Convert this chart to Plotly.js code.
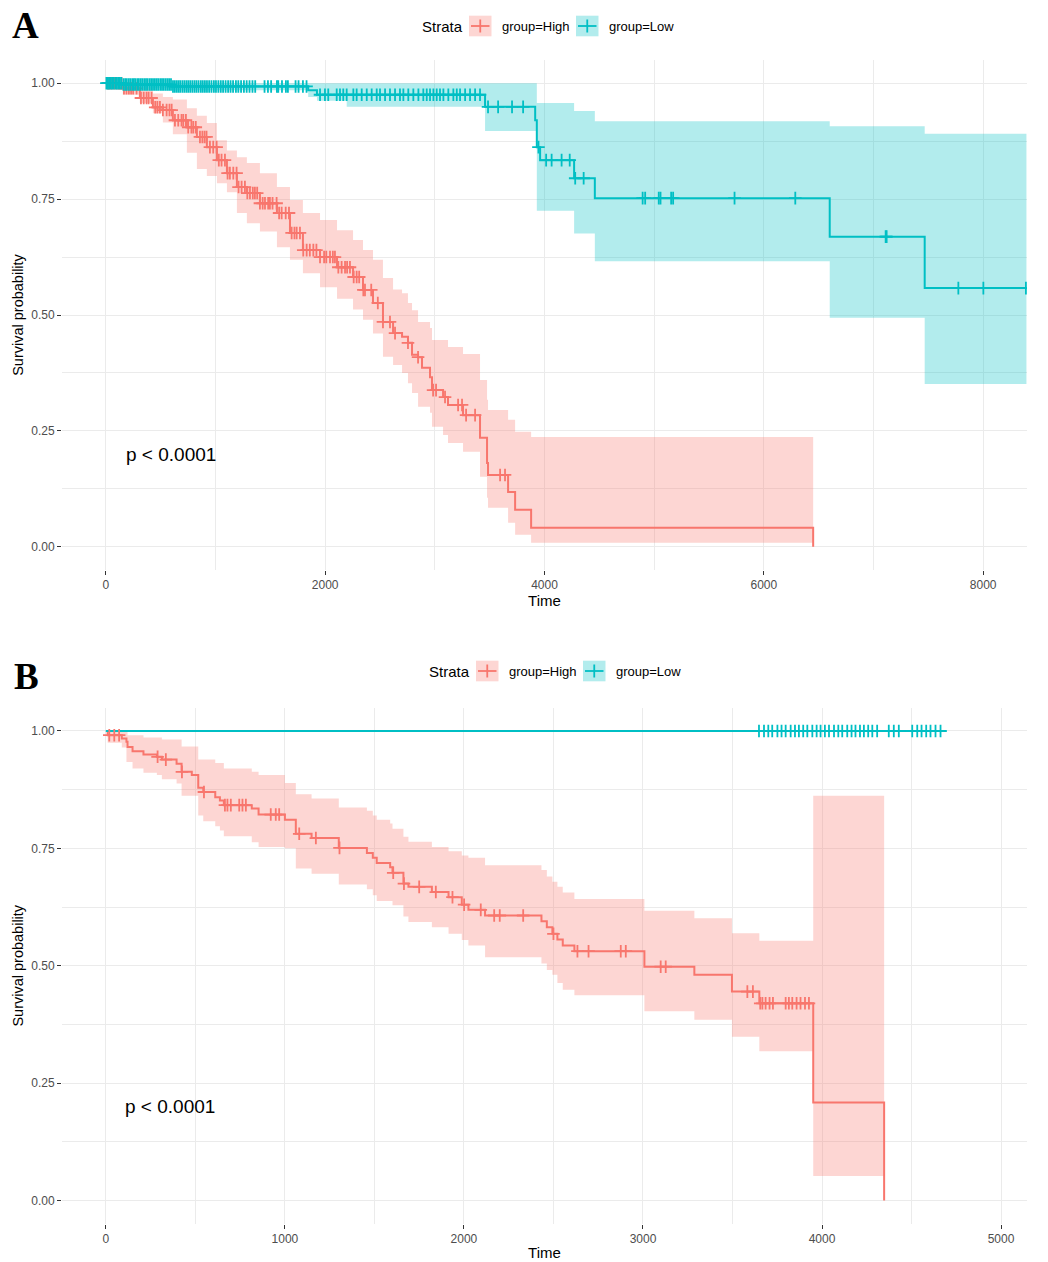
<!DOCTYPE html>
<html><head><meta charset="utf-8">
<script src="https://cdn.plot.ly/plotly-3.0.1.min.js"></script>
<style>body{margin:0;background:#fff}</style>
</head><body><div id="chart" style="width:1048px;height:1262px"></div>
<script>
// ---------- Panel A : group=High ----------
const A_high_time  = [0,155,310,429,520,611,739,830,921,1013,1104,1195,1286,1405,1560,1679,1797,1953,2108,2254,2345,2436,2527,2619,2701,2755,2792,2847,2883,2956,2974,3075,3120,3257,3412,3476,3485,3668,3732,3878,6450];
const A_high_surv  = [1.0,0.989,0.968,0.948,0.942,0.920,0.905,0.884,0.862,0.834,0.806,0.776,0.763,0.741,0.720,0.677,0.640,0.625,0.603,0.582,0.554,0.526,0.485,0.461,0.453,0.440,0.414,0.409,0.386,0.366,0.338,0.323,0.306,0.284,0.235,0.181,0.155,0.118,0.080,0.041,0.0];
const A_high_upper = [1.0,1.0,0.99,0.978,0.97,0.965,0.946,0.93,0.914,0.877,0.855,0.84,0.828,0.806,0.776,0.748,0.72,0.705,0.683,0.662,0.64,0.619,0.58,0.555,0.547,0.526,0.51,0.485,0.485,0.472,0.446,0.446,0.431,0.416,0.36,0.317,0.295,0.274,0.248,0.237,0.237];
const A_high_lower = [1.0,0.975,0.957,0.935,0.915,0.89,0.85,0.815,0.8,0.784,0.765,0.72,0.698,0.68,0.646,0.619,0.59,0.56,0.535,0.512,0.49,0.46,0.41,0.392,0.375,0.353,0.332,0.302,0.302,0.289,0.259,0.241,0.224,0.205,0.151,0.106,0.084,0.052,0.026,0.009,0.009];
const A_high_censor = [20,35,52,75,97,120,143,165,188,210,230,249,280,320,345,371,390,417,450,470,493,520,554,580,600,630,660,690,706,730,751,780,797,820,858,880,900,918,949,979,1010,1030,1055,1086,1110,1131,1162,1192,1210,1238,1268,1290,1314,1340,1359,1380,1405,1430,1451,1480,1496,1520,1557,1580,1603,1640,1670,1694,1720,1740,1770,1800,1831,1860,1892,1920,1953,1990,2010,2044,2070,2089,2120,2150,2181,2200,2226,2260,2287,2310,2348,2363,2420,2480,2527,2591,2637,2755,2847,2984,3011,3093,3212,3248,3285,3367,3595,3640];

// ---------- Panel A : group=Low ----------
const A_low_time  = [0,150,600,1845,1925,2196,3458,3915,3930,3960,4270,4459,6601,7467,8395];
const A_low_surv  = [1.0,0.997,0.993,0.985,0.975,0.975,0.949,0.92,0.862,0.834,0.795,0.752,0.669,0.558,0.558];
const A_low_upper = [1,1,1,1,1,1,1,1,0.957,0.957,0.94,0.918,0.907,0.891,0.891];
const A_low_lower = [1,0.99,0.985,0.97,0.962,0.949,0.897,0.897,0.725,0.725,0.676,0.616,0.494,0.351,0.351];
const A_low_censor = [5,18,30,44,57,70,86,99,112,128,141,160,176,190,207,222,240,255,268,286,301,318,333,350,366,381,399,414,430,447,463,478,496,512,528,545,561,577,594,612,629,647,664,680,699,717,735,752,770,789,808,826,845,866,884,903,922,942,963,985,1004,1026,1048,1069,1092,1115,1137,1160,1186,1208,1233,1259,1284,1310,1337,1362,1447,1478,1507,1560,1572,1606,1642,1660,1730,1757,1797,1830,
  1953,1998,2028,2105,2135,2165,2196,2257,2287,2333,2379,2424,2470,2500,2546,2591,2637,2682,2713,2758,2804,2850,2895,2926,2956,2987,3017,3047,3078,3123,3169,3200,3230,3276,3321,3367,3412,
  3485,3577,3704,3805,3945,4015,4065,4156,4230,4280,4357,4895,4918,5042,5058,5155,5173,5733,6287,7111,7120,7774,8002,8390];

// ---------- Panel B : group=High ----------
const B_high_time  = [0,10,89,115,121,149,210,285,313,395,423,480,516,544,611,637,659,815,853,1000,1061,1149,1301,1458,1491,1513,1588,1601,1662,1690,1821,1914,1988,2025,2118,2433,2463,2494,2522,2552,2617,3008,3287,3497,3650,3951,4347];
const B_high_surv  = [1.0,0.991,0.984,0.977,0.966,0.957,0.950,0.945,0.939,0.930,0.913,0.906,0.879,0.870,0.859,0.852,0.842,0.835,0.822,0.811,0.781,0.772,0.751,0.740,0.730,0.719,0.710,0.698,0.675,0.668,0.657,0.646,0.630,0.619,0.607,0.595,0.582,0.568,0.556,0.543,0.531,0.498,0.481,0.445,0.420,0.209,0.0];
const B_high_upper = [1,1,1,1,0.991,0.991,0.986,0.986,0.982,0.982,0.967,0.967,0.939,0.939,0.932,0.932,0.920,0.913,0.906,0.889,0.865,0.856,0.837,0.830,0.820,0.811,0.803,0.792,0.775,0.764,0.753,0.744,0.735,0.730,0.714,0.704,0.690,0.679,0.668,0.656,0.642,0.617,0.601,0.569,0.553,0.862,0.862];
const B_high_lower = [1,0.975,0.965,0.934,0.934,0.920,0.911,0.906,0.897,0.888,0.862,0.862,0.820,0.808,0.797,0.788,0.776,0.763,0.753,0.750,0.707,0.696,0.673,0.663,0.650,0.638,0.638,0.629,0.605,0.593,0.582,0.568,0.555,0.543,0.518,0.505,0.491,0.481,0.463,0.449,0.437,0.403,0.385,0.349,0.318,0.052,0.052];
const B_high_censor = [19,47,74,289,335,425,548,665,679,698,745,763,782,921,949,968,1080,1173,1305,1605,1665,1750,1843,1936,2001,2094,2169,2200,2331,2500,2634,2696,2876,2904,3099,3127,3583,3614,3655,3667,3685,3707,3726,3797,3815,3834,3858,3880,3905,3927];

// ---------- Panel B : group=Low ----------
const B_low_time  = [0,4665];
const B_low_surv  = [1.0,1.0];
const B_low_upper = [1.0,1.0];
const B_low_lower = [1.0,1.0];
const B_low_censor = [3648,3676,3700,3722,3751,3774,3797,3825,3849,3871,3895,3918,3946,3970,3992,4016,4039,4067,4091,4113,4141,4165,4187,4212,4234,4258,4281,4308,4373,4401,4429,4504,4532,4556,4582,4606,4634,4662];

const STRATA = ['group=High','group=Low'];
const Y_TICKS = [0,0.25,0.5,0.75,1.0];
const Y_TICKTEXT = ['0.00','0.25','0.50','0.75','1.00'];
const XA_TICKS = [0,2000,4000,6000,8000];
const XB_TICKS = [0,1000,2000,3000,4000,5000];
const P_TEXT = 'p &lt; 0.0001';

// ---------- drawing ----------
const RED = '#F8766D', CYAN = '#00BFC4';
const RED_FILL = 'rgba(248,118,109,0.3)', CYAN_FILL = 'rgba(0,191,196,0.3)';
const W = 1048, H = 1262, ML = 62, MR = 21, MT = 0, MB = 38;
const PW = W - ML - MR, PH = H - MT - MB;
const px = x => (x - ML) / PW;
const py = y => (PH + MT - y) / PH;

function survAt(times, surv, t) {
  let v = surv[0];
  for (let i = 0; i < times.length; i++) { if (times[i] <= t) v = surv[i]; else break; }
  return v;
}
function band(t, lo, up, fill, xa, ya) {
  return [
    {x: t, y: lo, mode: 'lines', line: {shape: 'hv', width: 0, color: fill}, xaxis: xa, yaxis: ya, showlegend: false, hoverinfo: 'skip'},
    {x: t, y: up, mode: 'lines', line: {shape: 'hv', width: 0, color: fill}, fill: 'tonexty', fillcolor: fill, xaxis: xa, yaxis: ya, showlegend: false, hoverinfo: 'skip'}
  ];
}
function curve(t, s, col, xa, ya, name) {
  return {x: t, y: s, mode: 'lines', name: name, line: {shape: 'hv', width: 2, color: col}, xaxis: xa, yaxis: ya, showlegend: false};
}
function marks(c, t, s, col, xa, ya, name) {
  return {x: c, y: c.map(v => survAt(t, s, v)), mode: 'markers', name: name,
    marker: {symbol: 'cross-thin', size: 9, color: col, line: {width: 1.8, color: col}}, xaxis: xa, yaxis: ya, showlegend: false};
}

const data = [
  ...band(A_high_time, A_high_lower, A_high_upper, RED_FILL, 'x', 'y'),
  ...band(A_low_time, A_low_lower, A_low_upper, CYAN_FILL, 'x', 'y'),
  curve(A_high_time, A_high_surv, RED, 'x', 'y', STRATA[0]),
  curve(A_low_time, A_low_surv, CYAN, 'x', 'y', STRATA[1]),
  marks(A_high_censor, A_high_time, A_high_surv, RED, 'x', 'y', STRATA[0]),
  marks(A_low_censor, A_low_time, A_low_surv, CYAN, 'x', 'y', STRATA[1]),
  ...band(B_high_time, B_high_lower, B_high_upper, RED_FILL, 'x2', 'y2'),
  ...band(B_low_time, B_low_lower, B_low_upper, CYAN_FILL, 'x2', 'y2'),
  curve(B_high_time, B_high_surv, RED, 'x2', 'y2', STRATA[0]),
  curve(B_low_time, B_low_surv, CYAN, 'x2', 'y2', STRATA[1]),
  marks(B_high_censor, B_high_time, B_high_surv, RED, 'x2', 'y2', STRATA[0]),
  marks(B_low_censor, B_low_time, B_low_surv, CYAN, 'x2', 'y2', STRATA[1])
];

const FONT = 'Liberation Sans, Arial, sans-serif';
const tickfont = {family: FONT, size: 12, color: '#4D4D4D'};
function xaxis(range, ticks, minorDtick, anchor) {
  return {domain: [0, 1], anchor: anchor, range: range, tickmode: 'array', tickvals: ticks,
    ticks: 'outside', ticklen: 4, tickwidth: 1, tickcolor: '#333333', tickfont: tickfont,
    showline: false, zeroline: false, showgrid: true, gridcolor: '#EBEBEB', gridwidth: 1,
    minor: {tick0: 0, dtick: minorDtick, showgrid: true, gridcolor: '#EBEBEB', gridwidth: 1, ticks: ''},
    title: {text: 'Time', font: {family: FONT, size: 15, color: '#000'}, standoff: 2}, fixedrange: true};
}
function yaxis(domain, anchor) {
  return {domain: domain, anchor: anchor, range: [-0.05, 1.05], tickmode: 'array', tickvals: Y_TICKS, ticktext: Y_TICKTEXT,
    ticks: 'outside', ticklen: 4, tickwidth: 1, tickcolor: '#333333', tickfont: tickfont,
    showline: false, zeroline: false, showgrid: true, gridcolor: '#EBEBEB', gridwidth: 1,
    minor: {tick0: 0, dtick: 0.125, showgrid: true, gridcolor: '#EBEBEB', gridwidth: 1, ticks: ''},
    title: {text: 'Survival probability', font: {family: FONT, size: 14.5, color: '#000'}, standoff: 4}, fixedrange: true};
}

const shapes = [], annotations = [];
function legend(s, cy) {
  annotations.push({xref: 'paper', yref: 'paper', x: px(s), y: py(cy), xanchor: 'left', yanchor: 'middle', showarrow: false,
    text: 'Strata', font: {family: FONT, size: 15, color: '#000'}});
  const keys = [[s + 49, RED_FILL, RED, STRATA[0], s + 80], [s + 156, CYAN_FILL, CYAN, STRATA[1], s + 187]];
  keys.forEach(([kx, f, c, label, tx]) => {
    shapes.push({type: 'rect', xref: 'paper', yref: 'paper', x0: px(kx), x1: px(kx + 22.5), y0: py(cy - 10.3), y1: py(cy + 10.3), fillcolor: f, line: {width: 0}});
    shapes.push({type: 'line', xref: 'paper', yref: 'paper', x0: px(kx + 2), x1: px(kx + 20.5), y0: py(cy), y1: py(cy), line: {color: c, width: 1.8}});
    shapes.push({type: 'line', xref: 'paper', yref: 'paper', x0: px(kx + 11.25), x1: px(kx + 11.25), y0: py(cy - 6.5), y1: py(cy + 6.5), line: {color: c, width: 1.8}});
    annotations.push({xref: 'paper', yref: 'paper', x: px(tx), y: py(cy), xanchor: 'left', yanchor: 'middle', showarrow: false,
      text: label, font: {family: FONT, size: 13, color: '#000'}});
  });
}
legend(420, 26);
legend(427, 671);

annotations.push({xref: 'paper', yref: 'paper', x: px(25), y: py(25), xanchor: 'center', yanchor: 'middle', showarrow: false,
  text: '<b>A</b>', font: {family: 'Liberation Serif, Times New Roman, serif', size: 37, color: '#000'}});
annotations.push({xref: 'paper', yref: 'paper', x: px(26), y: py(676), xanchor: 'center', yanchor: 'middle', showarrow: false,
  text: '<b>B</b>', font: {family: 'Liberation Serif, Times New Roman, serif', size: 37, color: '#000'}});
annotations.push({xref: 'x', yref: 'y', x: 596, y: 0.2, xanchor: 'center', yanchor: 'middle', showarrow: false,
  text: P_TEXT, font: {family: FONT, size: 19, color: '#000'}});
annotations.push({xref: 'x2', yref: 'y2', x: 357, y: 0.2, xanchor: 'center', yanchor: 'middle', showarrow: false,
  text: P_TEXT, font: {family: FONT, size: 19, color: '#000'}});

const layout = {
  width: W, height: H, margin: {l: ML, r: MR, t: MT, b: MB},
  paper_bgcolor: '#fff', plot_bgcolor: '#fff', showlegend: false,
  xaxis: xaxis([-400, 8400], XA_TICKS, 1000, 'y'),
  yaxis: yaxis([py(570), py(60)], 'x'),
  xaxis2: xaxis([-245, 5145], XB_TICKS, 500, 'y2'),
  yaxis2: yaxis([0, py(707.5)], 'x2'),
  shapes: shapes, annotations: annotations
};
Plotly.newPlot('chart', data, layout, {staticPlot: true, displayModeBar: false});
</script></body></html>
